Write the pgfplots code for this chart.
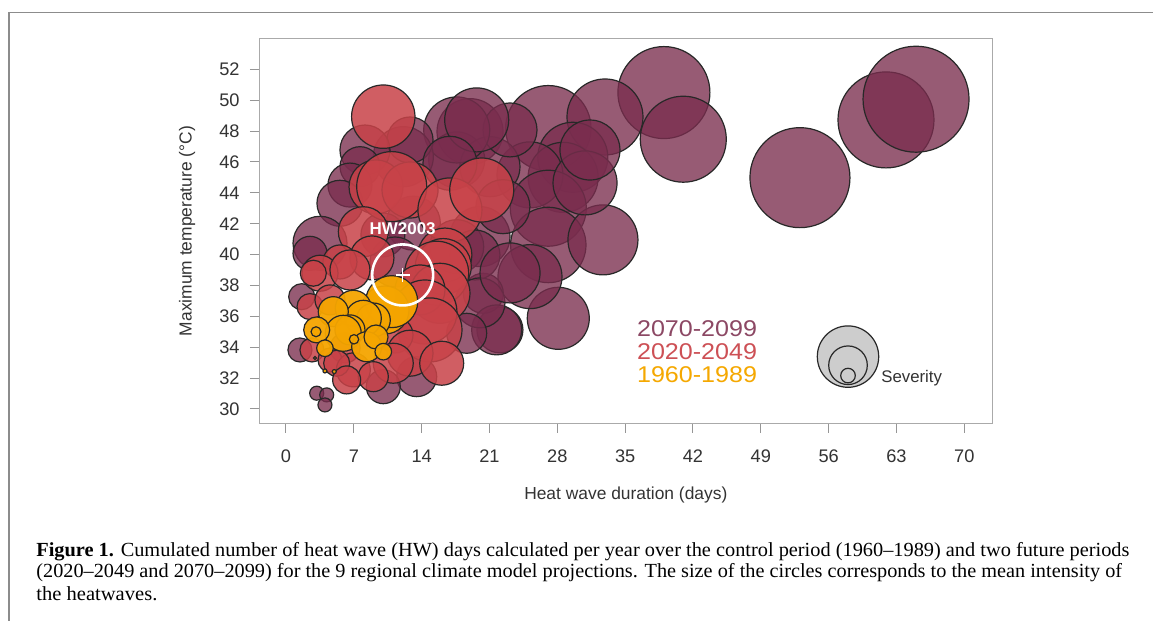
\documentclass[border=0pt]{standalone}
\usepackage{pgfplots}
\pgfplotsset{compat=1.18}
\usepackage{pgfplotstable}
\usepackage{graphicx}
\usepackage{fontspec}
\setmainfont{Liberation Sans}
\newfontfamily\capfont{Liberation Serif}
\definecolor{cSeventy}{RGB}{122,45,78}
\definecolor{cTwenty}{RGB}{200,66,72}
\definecolor{cSixty}{RGB}{245,165,0}
\definecolor{tSeventy}{RGB}{140,72,100}
\definecolor{tTwenty}{RGB}{205,80,85}
\definecolor{tSixty}{RGB}{245,168,0}
\definecolor{edgec}{RGB}{40,40,40}
\definecolor{boxc}{RGB}{170,170,170}
\definecolor{tickc}{RGB}{150,150,150}
\definecolor{labc}{RGB}{51,51,51}
\definecolor{framec}{RGB}{140,140,140}
\definecolor{sevc}{RGB}{205,205,205}

% x = duration (days), y = max temperature, r = circle radius (px of the reference)
\pgfplotstableread{
x y r
39.0 50.49 46
41.0 47.47 43
53.04 44.98 50
61.92 48.72 48
65.02 50.06 53
27.07 48.18 42.7
32.92 48.91 38
29.6 46.3 35
28.6 45.0 35
25.18 45.16 33
27.07 43.0 38
27.07 40.62 37.7
32.71 40.95 35
30.86 44.64 32
31.37 46.77 30
28.1 35.87 31
25.18 38.57 32
22.08 35.12 23
20.36 37.49 20
20.02 41.16 30
18.99 47.96 33
17.62 46.13 28
21.05 45.69 30
23.12 48.07 27
22.39 43.10 27
17.62 48.07 33
19.68 48.72 32
12.11 46.34 30
12.80 47.42 23
8.15 46.77 25
16.92 45.91 27
13.14 42.03 27
10.0 41.27 22
11.25 39.52 25
17.62 40.51 27
19.5 39.97 25
7.64 45.69 20
6.6 44.5 22
5.57 43.32 23
3.51 40.73 27
2.48 40.08 17
1.62 37.27 13
1.44 33.82 12
21.74 35.12 25
20.02 36.87 25
23.12 38.81 30
18.65 34.9 20
13.49 32.09 20
10.04 31.44 17
3.17 31.02 7
4.2 30.91 7
4.02 30.26 7
}\tblSeventy

\pgfplotstableread{
x y r
10.04 48.93 31.7
9.29 44.38 27
12.8 44.18 28
10.91 44.40 35
16.92 42.89 32
20.2 44.18 32
7.98 41.48 25
8.87 39.78 22
5.57 39.52 17
3.51 38.79 18
6.6 39.0 20
2.82 38.79 13
16.4 39.97 27
16.23 39.22 28
15.55 38.79 32
15.89 37.49 30
13.83 37.71 25
14.34 36.28 32
14.86 35.12 32
2.48 36.63 13
4.54 37.06 15
11.25 34.79 18
6.09 33.95 15
2.68 33.82 12
4.54 33.17 12
12.8 33.61 23
16.07 32.96 22
11.07 32.96 20
6.95 32.53 17
9.01 32.09 15
5.23 32.96 13
6.26 31.88 14
}\tblTwenty

\pgfplotstableread{
x y r
10.22 36.41 24
10.91 36.95 26
6.95 36.52 18
9.01 35.76 17
7.98 35.87 18
4.88 36.30 15
6.6 35.12 15
5.91 34.90 18
3.17 35.12 13
3.1 35.0 5
8.33 34.03 15
9.29 34.66 12
4.02 33.93 8.3
10.04 33.71 8.3
7.02 34.51 4.7
4.02 32.46 2
4.98 32.42 2
2.99 33.30 1.5
}\tblSixty

\pgfplotstableread{
x y r
58.0 33.39 30.7
58.0 32.83 19.3
58.0 32.16 7.3
}\tblSeverity

\begin{document}
\begin{tikzpicture}
\path[use as bounding box, fill=white] (0,0) rectangle (576.5pt,-310.5pt);
\draw[framec, line width=0.6pt] (576.5pt,-6.15pt) -- (4.5pt,-6.15pt) -- (4.5pt,-310.5pt);

\begin{axis}[
  at={(129.65pt,-211.65pt)}, anchor=south west,
  scale only axis, width=366.5pt, height=192.15pt,
  xmin=-2.755, xmax=72.89, ymin=29.07, ymax=53.96,
  xtick={0,7,...,70}, ytick={30,32,...,52},
  axis line style={draw=boxc, line width=0.5pt},
  tick align=outside, major tick length=4.75pt,
  tick style={draw=tickc, line width=0.5pt},
  xtick pos=lower, ytick pos=left,
  /pgf/number format/assume math mode=true,
  ticklabel style={font=\fontsize{9.1}{10}\selectfont, text=labc},
  xticklabel style={anchor=center, yshift=-11.85pt},
  yticklabel style={anchor=east, inner sep=0pt, xshift=-4.9pt},
  xlabel={Heat wave duration (days)},
  xlabel style={at={(axis description cs:0.5,-0.1866)}, anchor=center, font=\fontsize{8.7}{10}\selectfont, text=labc},
  ylabel={Maximum temperature (°C)},
  ylabel style={at={(axis description cs:-0.09864,0.5)}, anchor=center, font=\fontsize{8.7}{10}\selectfont, text=labc},
]
\addplot[scatter, only marks, mark=*, line width=0.6pt,
  scatter/use mapped color={draw=edgec, fill=cSeventy, fill opacity=0.78},
  visualization depends on={\thisrow{r} \as \rad},
  scatter/@pre marker code/.append style={/tikz/mark size=\rad/2}]
  table[x=x, y=y] {\tblSeventy};
\addplot[scatter, only marks, mark=*, line width=0.6pt,
  scatter/use mapped color={draw=edgec, fill=cTwenty, fill opacity=0.85},
  visualization depends on={\thisrow{r} \as \rad},
  scatter/@pre marker code/.append style={/tikz/mark size=\rad/2}]
  table[x=x, y=y] {\tblTwenty};
\addplot[scatter, only marks, mark=*, line width=0.6pt,
  scatter/use mapped color={draw=edgec, fill=cSixty, fill opacity=0.95},
  visualization depends on={\thisrow{r} \as \rad},
  scatter/@pre marker code/.append style={/tikz/mark size=\rad/2}]
  table[x=x, y=y] {\tblSixty};
\addplot[scatter, only marks, mark=*, line width=0.6pt,
  scatter/use mapped color={draw=edgec, fill=sevc},
  visualization depends on={\thisrow{r} \as \rad},
  scatter/@pre marker code/.append style={/tikz/mark size=\rad/2}]
  table[x=x, y=y] {\tblSeverity};
% HW2003 reference event
\addplot[only marks, mark=o, mark size=15.25pt, mark options={draw=white, line width=1.3pt}] coordinates {(12.04,38.68)};
\addplot[only marks, mark=+, mark size=3.5pt, mark options={draw=white, line width=0.7pt}] coordinates {(12.04,38.68)};

\node[anchor=west, inner sep=0pt, text=tSeventy] at (axis cs:36.19,35.17) {\scalebox{1.1}[1]{\fontsize{11.4}{12}\selectfont 2070-2099}};
\node[anchor=west, inner sep=0pt, text=tTwenty] at (axis cs:36.19,33.71) {\scalebox{1.1}[1]{\fontsize{11.4}{12}\selectfont 2020-2049}};
\node[anchor=west, inner sep=0pt, text=tSixty] at (axis cs:36.19,32.20) {\scalebox{1.1}[1]{\fontsize{11.4}{12}\selectfont 1960-1989}};
\node[anchor=base west, inner sep=0pt, text=labc, font=\fontsize{8.4}{10}\selectfont] at (axis cs:61.4,31.70) {Severity};
\end{axis}

\node[anchor=base, text=white, inner sep=0pt, font=\fontsize{8.5}{10}\selectfont\bfseries] at (201.3pt,-117pt) {HW2003};

\node[anchor=base west, inner sep=0pt] at (18pt,-278pt) {\resizebox{546.5pt}{\height}{\capfont\fontsize{10}{11}\selectfont\textbf{Figure 1.} Cumulated number of heat wave (HW) days calculated per year over the control period (1960–1989) and two future periods}};
\node[anchor=base west, inner sep=0pt] at (18pt,-288.75pt) {\resizebox{542.8pt}{\height}{\capfont\fontsize{10}{11}\selectfont (2020–2049 and 2070–2099) for the 9 regional climate model projections. The size of the circles corresponds to the mean intensity of}};
\node[anchor=base west, inner sep=0pt] at (18pt,-300pt) {\resizebox{60.5pt}{\height}{\capfont\fontsize{10}{11}\selectfont the heatwaves.}};
\end{tikzpicture}
\end{document}
